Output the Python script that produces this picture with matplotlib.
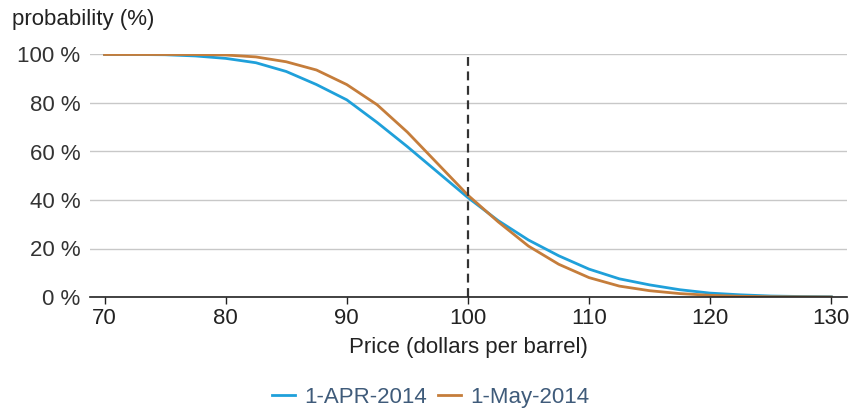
import matplotlib
matplotlib.use("Agg")
import matplotlib.pyplot as plt

plt.rcParams["font.family"] = ["Liberation Sans", "DejaVu Sans"]

prices = [70, 72.5, 75, 77.5, 80, 82.5, 85, 87.5, 90, 92.5, 95, 97.5, 100,
          102.5, 105, 107.5, 110, 112.5, 115, 117.5, 120, 122.5, 125, 127.5, 130]
apr_prob = [100, 100, 99.9, 99.4, 98.4, 96.6, 93, 87.6, 81.3, 72, 62, 51.5, 41,
            31.5, 23.5, 17, 11.5, 7.5, 5, 3, 1.6, 0.9, 0.4, 0.2, 0.1]
may_prob = [100, 100, 100, 100, 99.8, 99, 97, 93.6, 87.6, 79.3, 68, 55, 42,
            31, 21, 13.5, 8, 4.5, 2.6, 1.4, 0.7, 0.3, 0.1, 0.05, 0]
labels = ["1-APR-2014", "1-May-2014"]
xticks = [70, 80, 90, 100, 110, 120, 130]
yticks = [0, 20, 40, 60, 80, 100]
strike = 100

FS = 16

fig = plt.figure(figsize=(8.52, 4.11), dpi=100)
ax = fig.add_axes([90 / 852, 1 - 297 / 411, 757 / 852, 242.5 / 411])

ax.plot(prices, apr_prob, color="#1fa0da", lw=2.0, label=labels[0], zorder=3)
ax.plot(prices, may_prob, color="#c57d3b", lw=2.0, label=labels[1], zorder=3)
ax.axvline(strike, color="#333333", lw=1.6, ls=(0, (4, 2.5)), zorder=4)

ax.set_xlim(68.8, 131.3)
ax.set_ylim(0, 100)
ax.set_xticks(xticks)
ax.set_yticks(yticks)
ax.set_yticklabels([f"{v} %" for v in yticks])
ax.grid(axis="y", color="#c8c8c8", lw=1.0)
ax.set_axisbelow(True)

for s in ["top", "right", "left"]:
    ax.spines[s].set_visible(False)
ax.spines["bottom"].set_color("#222222")
ax.spines["bottom"].set_linewidth(1.2)
ax.spines["bottom"].set_zorder(5)
ax.tick_params(axis="x", direction="out", length=5, width=1, color="#222222",
               labelsize=FS, labelcolor="#222222", pad=3)
ax.tick_params(axis="y", length=0, labelsize=FS, labelcolor="#333333", pad=7)

ax.set_xlabel("Price (dollars per barrel)", fontsize=FS, color="#222222", labelpad=6)
fig.text(12 / 852, 1 - 19 / 411, "probability (%)", fontsize=FS, color="#222222",
         ha="left", va="center")

fig.legend(loc="center", bbox_to_anchor=(431 / 852, 1 - 397 / 411), ncol=2,
           frameon=False, fontsize=FS, handlelength=1.0, handletextpad=0.45,
           columnspacing=0.5, labelcolor="#3f5b7a")

fig.savefig("out.png", dpi=100)
